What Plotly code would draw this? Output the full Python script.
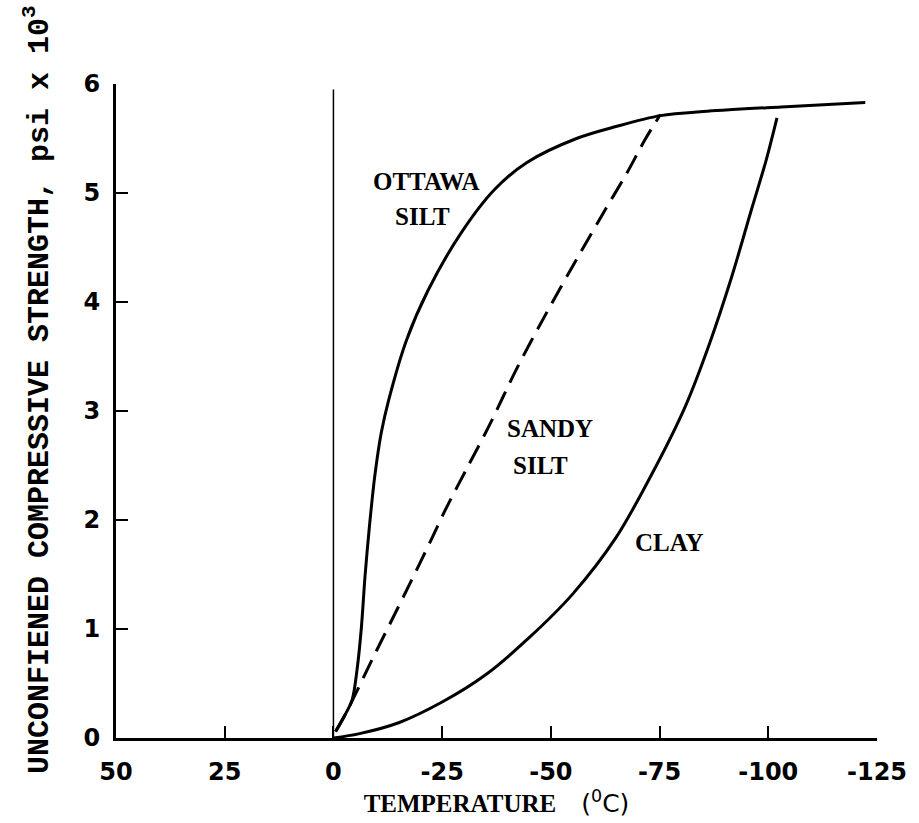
import plotly.graph_objects as go

# Temperature (deg C) and unconfined compressive strength (psi x 10^3)
ottawa_x = [-0.5, -2.5, -4.3, -5.5, -6.4, -7.3, -8.3, -9.5, -11.0, -12.7, -16.8, -21.8, -29.3, -37.0, -44.5, -55.9, -65.0, -75.2, -86.0, -103.0, -122.3]
ottawa_y = [0.06, 0.20, 0.35, 0.65, 1.00, 1.50, 1.95, 2.40, 2.80, 3.10, 3.65, 4.11, 4.63, 5.03, 5.28, 5.50, 5.61, 5.71, 5.75, 5.79, 5.83]

sandy_x = [-0.5, -2.5, -4.3, -8.9, -13.4, -18.0, -22.5, -25.7, -30.9, -35.5, -42.3, -49.0, -55.9, -62.7, -67.3, -71.8, -75.2]
sandy_y = [0.06, 0.20, 0.34, 0.72, 1.08, 1.45, 1.82, 2.09, 2.49, 2.84, 3.40, 3.90, 4.39, 4.86, 5.17, 5.50, 5.72]

clay_x = [0.0, -6.0, -15.0, -25.0, -35.0, -45.0, -55.0, -65.0, -74.0, -81.0, -86.5, -91.5, -96.0, -99.5, -102.0]
clay_y = [0.0, 0.04, 0.14, 0.33, 0.58, 0.92, 1.32, 1.84, 2.48, 3.05, 3.62, 4.22, 4.83, 5.30, 5.69]

x_ticks = [50, 25, 0, -25, -50, -75, -100, -125]
x_tick_labels = ["50", "25", "0", "-25", "-50", "-75", "-100", "-125"]
y_ticks = [0, 1, 2, 3, 4, 5, 6]
y_tick_labels = ["0", "1", "2", "3", "4", "5", "6"]

freeze_line_x = [0, 0]
freeze_line_y = [0, 5.95]

label_texts = ["OTTAWA", "SILT", "SANDY", "SILT", "CLAY"]
label_x = [-21.4, -20.5, -49.8, -47.7, -77.3]
label_y = [5.11, 4.78, 2.84, 2.50, 1.79]

fig = go.Figure()

fig.add_trace(go.Scatter(x=freeze_line_x, y=freeze_line_y, mode="lines",
                         line=dict(color="black", width=1.5), showlegend=False, hoverinfo="skip"))
fig.add_trace(go.Scatter(x=ottawa_x, y=ottawa_y, mode="lines", name="Ottawa silt",
                         line=dict(color="black", width=3, shape="spline", smoothing=0.9), showlegend=False))
fig.add_trace(go.Scatter(x=sandy_x, y=sandy_y, mode="lines", name="Sandy silt",
                         line=dict(color="black", width=3, dash="20px,10px", shape="spline", smoothing=0.9), showlegend=False))
fig.add_trace(go.Scatter(x=clay_x, y=clay_y, mode="lines", name="Clay",
                         line=dict(color="black", width=3, shape="spline", smoothing=0.9), showlegend=False))

for t, lx, ly in zip(label_texts, label_x, label_y):
    fig.add_annotation(x=lx, y=ly, text="<b>" + t + "</b>", showarrow=False,
                       font=dict(family="Liberation Serif", size=25, color="black"))

# y-axis title placed as an annotation so it can be centred like the original
fig.add_annotation(xref="paper", yref="paper", x=-0.103, y=0.533, textangle=-90,
                   xanchor="center", yanchor="middle",
                   text="<b>UNCONFIENED COMPRESSIVE STRENGTH, psi x 10<sup>3</sup></b>",
                   showarrow=False,
                   font=dict(family="Liberation Mono", size=30, color="black"))

fig.update_layout(
    width=919, height=823,
    margin=dict(l=116, r=36, t=84, b=85),
    paper_bgcolor="white", plot_bgcolor="white",
    xaxis=dict(
        range=[50, -125], tickvals=x_ticks, ticktext=["<b>" + s + "</b>" for s in x_tick_labels],
        showgrid=False, zeroline=False, showline=True, linecolor="black", linewidth=3,
        ticks="inside", ticklen=12, tickwidth=2, tickcolor="black",
        ticklabelstandoff=10,
        tickfont=dict(family="DejaVu Sans", size=24, color="black"),
        title=dict(text="<b>TEMPERATURE</b>    <span style=\"font-family:DejaVu Sans\">(<sup>0</sup>C)</span>", standoff=4,
                   font=dict(family="Liberation Serif", size=25, color="black")),
    ),
    yaxis=dict(
        range=[0, 6], tickvals=y_ticks, ticktext=["<b>" + s + "</b>" for s in y_tick_labels],
        showgrid=False, zeroline=False, showline=True, linecolor="black", linewidth=3,
        ticks="inside", ticklen=12, tickwidth=2, tickcolor="black",
        ticklabelstandoff=8,
        tickfont=dict(family="DejaVu Sans", size=24, color="black"),
    ),
)

fig.write_html("out.html")
